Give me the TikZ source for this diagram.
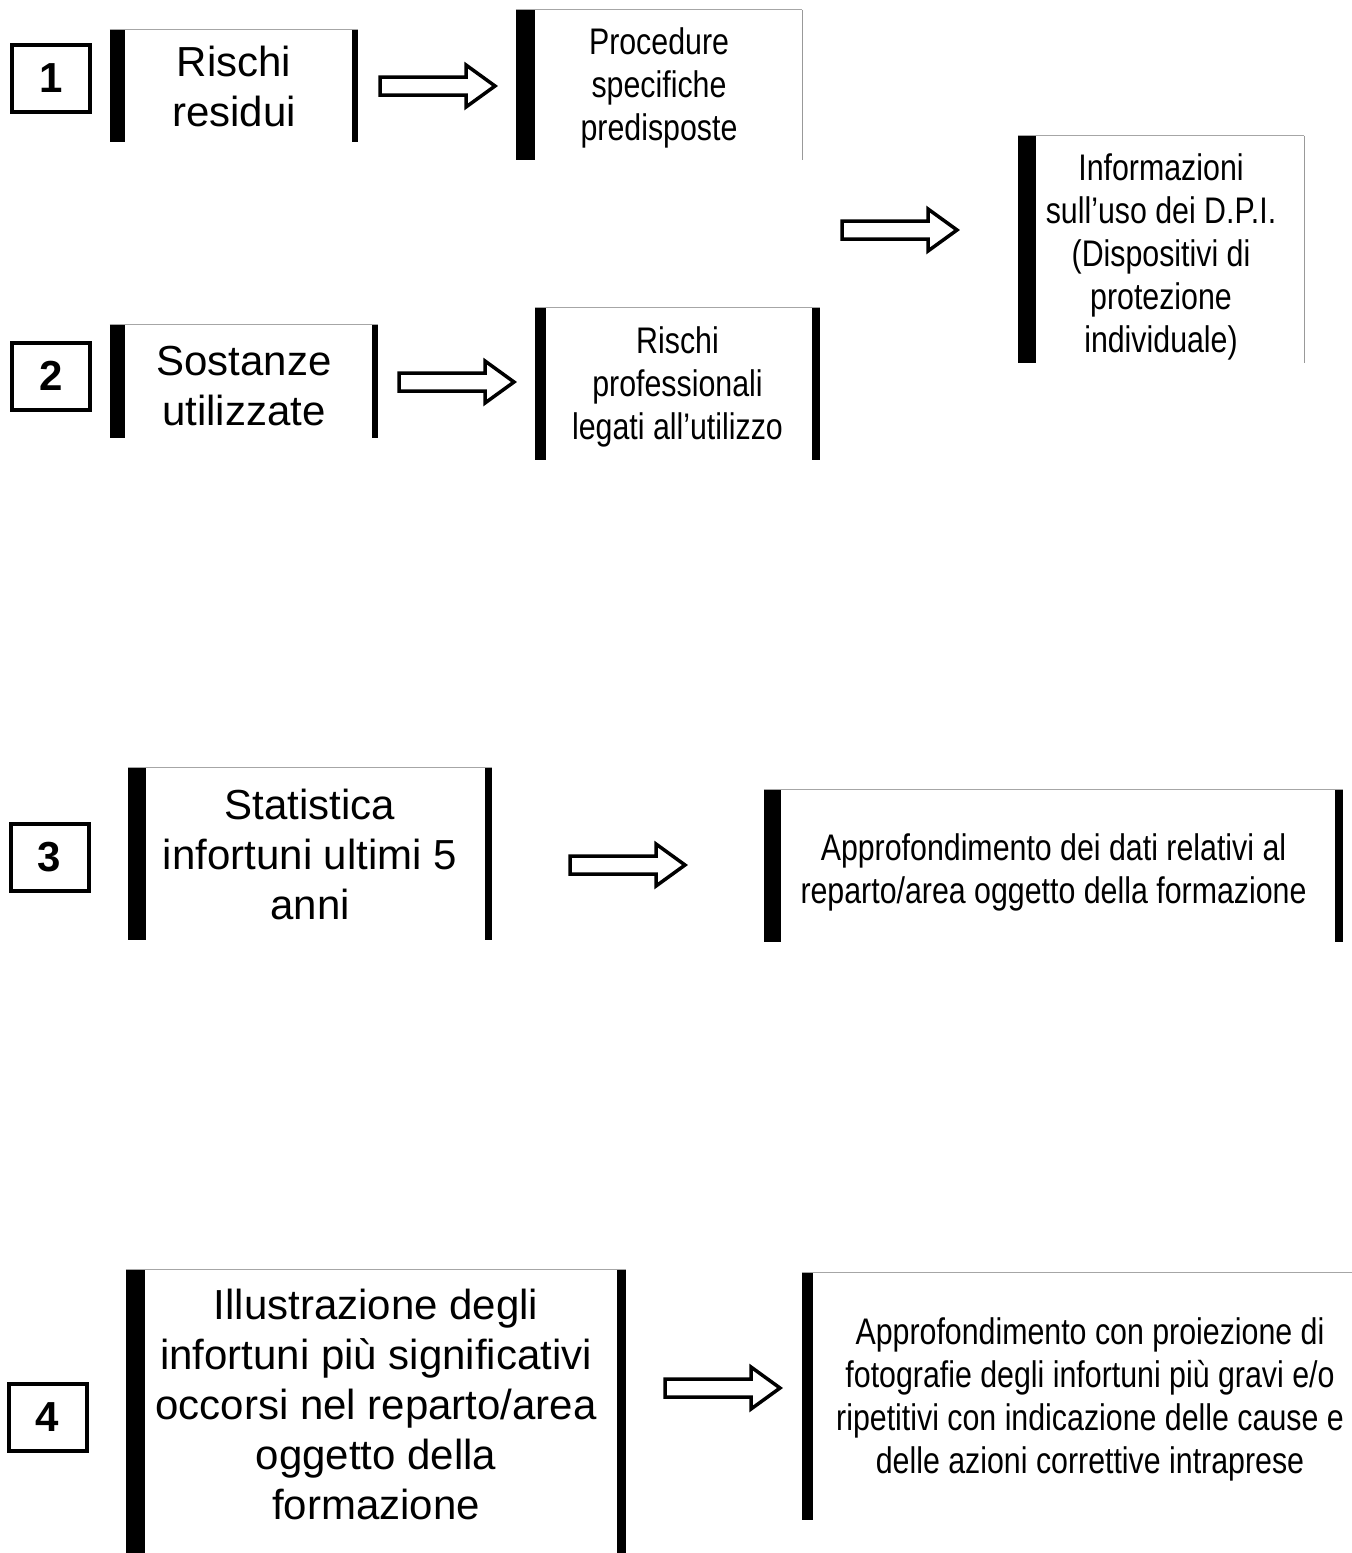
\documentclass[tikz,border=0pt]{standalone}
\usepackage{fontspec}
\setmainfont{Liberation Sans}
\newfontfamily\narrowfont[FakeStretch=0.82]{Liberation Sans}
\newcommand\topstrut[1]{\rule{0pt}{#1}}
\newcommand\bottomstrut[1]{\rule[-#1]{0pt}{#1}}

\begin{document}
\begin{tikzpicture}[
  x=0.5pt, y=-0.5pt,
  panel/.style={rectangle, inner sep=3pt, align=center, font=\fontsize{21}{25}\selectfont},
  slim/.style={panel, font=\narrowfont\fontsize{18.5}{21.5}\selectfont},
  numbox/.style={rectangle, draw, line width=2pt, minimum width=39pt, minimum height=33.5pt, font=\bfseries\fontsize{21}{25}\selectfont},
  topline/.style={gray!70, line width=0.6pt},
  edge/.style={gray!80, line width=0.5pt},
  blockarrow/.pic={\draw[line width=1.75pt] (2,-9) -- (88,-9) -- (88,-21) -- (117,0) -- (88,21) -- (88,9) -- (2,9) -- cycle;}
]
  \useasboundingbox (0,0) rectangle (1351,1553);

  % step numbers
  \node[numbox] (n1) at (51,78.5) {1};
  \node[numbox] (n2) at (51,376) {2};
  \node[numbox] (n3) at (49.5,857.5) {3};
  \node[numbox] (n4) at (47.5,1417.5) {4};

  % boxes
  \node[panel, minimum width=124pt, minimum height=56pt] (A) at (234,86) {Rischi\\residui};
  \node[slim, minimum width=143pt, minimum height=75pt] (B) at (659,85) {\topstrut{16.5pt}Procedure\\specifiche\\predisposte};
  \node[slim, inner sep=0.5pt, minimum width=143pt, minimum height=113.5pt] (C) at (1161,249.5) {\topstrut{20.5pt}Informazioni\\sull’uso dei D.P.I.\\(Dispositivi di\\protezione\\individuale)};
  \node[panel, minimum width=134pt, minimum height=56.5pt] (D) at (244,381.5) {\topstrut{19.5pt}Sostanze\\utilizzate};
  \node[slim, minimum width=142.5pt, minimum height=76pt] (E) at (677.5,384) {\topstrut{16.5pt}Rischi\\professionali\\legati all’utilizzo};
  \node[panel, minimum width=182pt, minimum height=86pt] (F) at (310,854) {Statistica\\infortuni ultimi 5\\anni};
  \node[slim, minimum width=289.5pt, minimum height=76pt] (G) at (1053.5,866) {\topstrut{19.5pt}Approfondimento dei dati relativi al\\reparto/area oggetto della formazione};
  \node[panel, minimum width=250pt, minimum height=141.5pt] (H) at (376,1411.5) {Illustrazione degli\\infortuni più significativi\\occorsi nel reparto/area\\oggetto della\\formazione\bottomstrut{7pt}};
  \node[slim, minimum width=288pt, minimum height=123.5pt] (I) at (1090,1396.5) {\topstrut{16.5pt}Approfondimento con proiezione di\\fotografie degli infortuni più gravi e/o\\ripetitivi con indicazione delle cause e\\delle azioni correttive intraprese};

  % frame pieces
  \foreach \n in {A,B,C,D,E,F,G,H,I}
    \draw[topline] (\n.north west) -- (\n.north east);
  \foreach \n/\w in {A/7.5, B/9.5, C/9, D/7.5, E/5.5, F/9, G/8.5, H/9.5, I/5.5}
    \fill (\n.north west) rectangle ([xshift=\w pt]\n.south west);
  \foreach \n/\w in {A/3, D/3, E/4, F/3.5, G/4, H/4.5}
    \fill (\n.north east) rectangle ([xshift=-\w pt]\n.south east);
  \draw[edge] (B.north east) -- (B.south east);
  \draw[edge] (C.north east) -- (C.south east);

  % arrows
  \coordinate (k1) at (378,86);
  \coordinate (k2) at (840,230);
  \coordinate (k3) at (397,382);
  \coordinate (k4) at (568,865);
  \coordinate (k5) at (663,1388);
  \foreach \k in {k1,k2,k3,k4,k5}
    \pic at (\k) {blockarrow};
\end{tikzpicture}
\end{document}
